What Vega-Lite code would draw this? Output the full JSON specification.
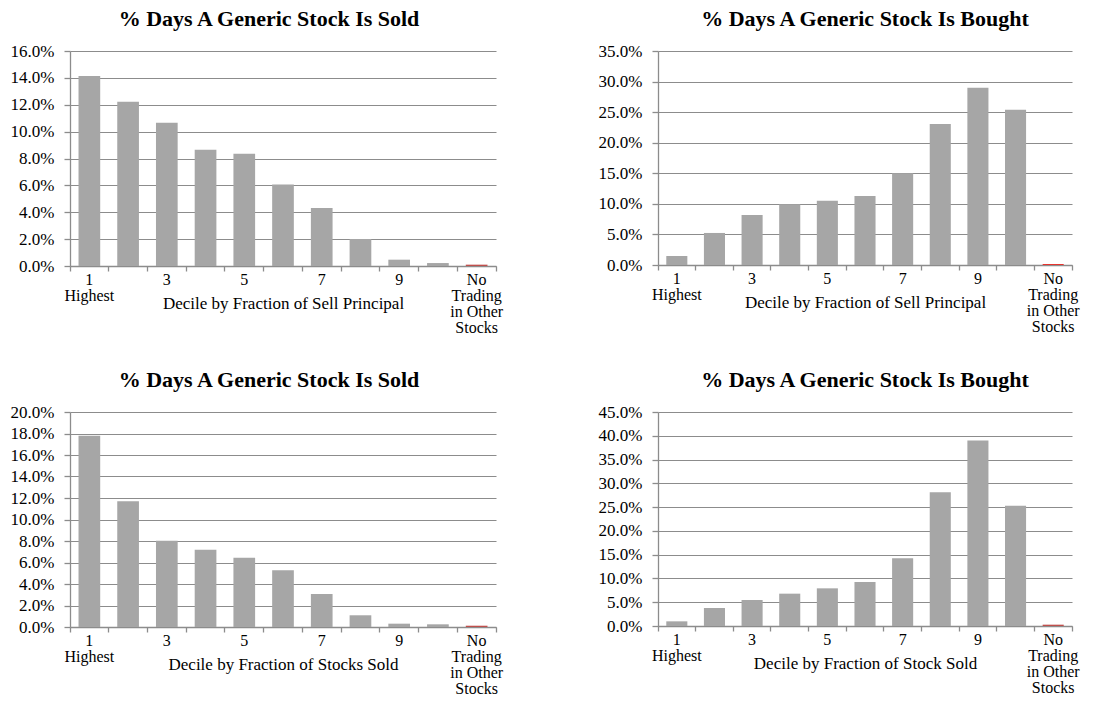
{
  "$schema": "https://vega.github.io/schema/vega-lite/v6.json",
  "padding": {"left": 10, "top": 8, "right": 10, "bottom": 0},
  "background": "white",
  "datasets": {
    "p1": [
      {"decile": "1", "value": 0.1414}, {"decile": "2", "value": 0.1222}, {"decile": "3", "value": 0.1066},
      {"decile": "4", "value": 0.0865}, {"decile": "5", "value": 0.0835}, {"decile": "6", "value": 0.0606},
      {"decile": "7", "value": 0.0432}, {"decile": "8", "value": 0.0201}, {"decile": "9", "value": 0.0047},
      {"decile": "10", "value": 0.0022}, {"decile": "No", "value": 0.0010}
    ],
    "p2": [
      {"decile": "1", "value": 0.0147}, {"decile": "2", "value": 0.0524}, {"decile": "3", "value": 0.0819},
      {"decile": "4", "value": 0.0994}, {"decile": "5", "value": 0.1049}, {"decile": "6", "value": 0.1130},
      {"decile": "7", "value": 0.1502}, {"decile": "8", "value": 0.2305}, {"decile": "9", "value": 0.2900},
      {"decile": "10", "value": 0.2540}, {"decile": "No", "value": 0.0016}
    ],
    "p3": [
      {"decile": "1", "value": 0.1780}, {"decile": "2", "value": 0.1169}, {"decile": "3", "value": 0.0803},
      {"decile": "4", "value": 0.0719}, {"decile": "5", "value": 0.0645}, {"decile": "6", "value": 0.0527},
      {"decile": "7", "value": 0.0307}, {"decile": "8", "value": 0.0109}, {"decile": "9", "value": 0.0031},
      {"decile": "10", "value": 0.0025}, {"decile": "No", "value": 0.0012}
    ],
    "p4": [
      {"decile": "1", "value": 0.0098}, {"decile": "2", "value": 0.0378}, {"decile": "3", "value": 0.0547},
      {"decile": "4", "value": 0.0680}, {"decile": "5", "value": 0.0792}, {"decile": "6", "value": 0.0925},
      {"decile": "7", "value": 0.1423}, {"decile": "8", "value": 0.2810}, {"decile": "9", "value": 0.3903},
      {"decile": "10", "value": 0.2530}, {"decile": "No", "value": 0.0028}
    ]
  },
  "bounds": "flush",
  "columns": 2,
  "spacing": {"row": 146, "column": 162},
  "concat": [
    {
      "width": 426, "height": 215,
      "title": {"text": "% Days A Generic Stock Is Sold", "dx": -14},
      "data": {"name": "p1"},
      "encoding": {
        "y": {"field": "value", "type": "quantitative", "scale": {"domain": [0, 0.16]},
          "axis": {"title": null, "format": ".1%", "values": [0, 0.02, 0.04, 0.06, 0.08, 0.1, 0.12, 0.14, 0.16]}}
      },
      "layer": [
        {
          "mark": {"type": "bar", "width": {"band": 0.56}},
          "encoding": {
            "x": {"field": "decile", "type": "ordinal", "sort": null, "scale": {"paddingInner": 0, "paddingOuter": 0},
              "axis": {"orient": "bottom", "title": "Decile by Fraction of Sell Principal", "ticks": false,
                "labelExpr": "datum.value == '1' ? ['1','Highest'] : datum.value == 'No' ? ['No','Trading','in Other','Stocks'] : (datum.value == '3' || datum.value == '5' || datum.value == '7' || datum.value == '9') ? datum.value : ''"}},
            "color": {"condition": {"test": "datum.decile === 'No'", "value": "#c0504d"}, "value": "#a6a6a6"}
          }
        },
        {
          "mark": {"type": "rule", "opacity": 0},
          "encoding": {
            "x": {"field": "decile", "type": "ordinal", "sort": null,
              "axis": {"orient": "bottom", "bandPosition": 0, "labels": false, "title": null, "domain": false, "grid": false, "ticks": true}}
          }
        },
        {
          "mark": {"type": "rule", "opacity": 0},
          "encoding": {
            "x": {"field": "decile", "type": "ordinal", "sort": null,
              "axis": {"orient": "bottom", "bandPosition": 1, "values": ["No"], "labels": false, "title": null, "domain": false, "grid": false, "ticks": true}}
          }
        }
      ],
      "resolve": {"axis": {"x": "independent"}}
    },
    {
      "width": 414, "height": 214,
      "title": {"text": "% Days A Generic Stock Is Bought"},
      "data": {"name": "p2"},
      "encoding": {
        "y": {"field": "value", "type": "quantitative", "scale": {"domain": [0, 0.35]},
          "axis": {"title": null, "format": ".1%", "values": [0, 0.05, 0.1, 0.15, 0.2, 0.25, 0.3, 0.35]}}
      },
      "layer": [
        {
          "mark": {"type": "bar", "width": {"band": 0.56}},
          "encoding": {
            "x": {"field": "decile", "type": "ordinal", "sort": null, "scale": {"paddingInner": 0, "paddingOuter": 0},
              "axis": {"orient": "bottom", "title": "Decile by Fraction of Sell Principal", "ticks": false,
                "labelExpr": "datum.value == '1' ? ['1','Highest'] : datum.value == 'No' ? ['No','Trading','in Other','Stocks'] : (datum.value == '3' || datum.value == '5' || datum.value == '7' || datum.value == '9') ? datum.value : ''"}},
            "color": {"condition": {"test": "datum.decile === 'No'", "value": "#e8352f"}, "value": "#a6a6a6"}
          }
        },
        {
          "mark": {"type": "rule", "opacity": 0},
          "encoding": {
            "x": {"field": "decile", "type": "ordinal", "sort": null,
              "axis": {"orient": "bottom", "bandPosition": 0, "labels": false, "title": null, "domain": false, "grid": false, "ticks": true}}
          }
        },
        {
          "mark": {"type": "rule", "opacity": 0},
          "encoding": {
            "x": {"field": "decile", "type": "ordinal", "sort": null,
              "axis": {"orient": "bottom", "bandPosition": 1, "values": ["No"], "labels": false, "title": null, "domain": false, "grid": false, "ticks": true}}
          }
        }
      ],
      "resolve": {"axis": {"x": "independent"}}
    },
    {
      "width": 426, "height": 215,
      "title": {"text": "% Days A Generic Stock Is Sold", "dx": -14},
      "data": {"name": "p3"},
      "encoding": {
        "y": {"field": "value", "type": "quantitative", "scale": {"domain": [0, 0.2]},
          "axis": {"title": null, "format": ".1%", "values": [0, 0.02, 0.04, 0.06, 0.08, 0.1, 0.12, 0.14, 0.16, 0.18, 0.2]}}
      },
      "layer": [
        {
          "mark": {"type": "bar", "width": {"band": 0.56}},
          "encoding": {
            "x": {"field": "decile", "type": "ordinal", "sort": null, "scale": {"paddingInner": 0, "paddingOuter": 0},
              "axis": {"orient": "bottom", "title": "Decile by Fraction of Stocks Sold", "ticks": false,
                "labelExpr": "datum.value == '1' ? ['1','Highest'] : datum.value == 'No' ? ['No','Trading','in Other','Stocks'] : (datum.value == '3' || datum.value == '5' || datum.value == '7' || datum.value == '9') ? datum.value : ''"}},
            "color": {"condition": {"test": "datum.decile === 'No'", "value": "#c0504d"}, "value": "#a6a6a6"}
          }
        },
        {
          "mark": {"type": "rule", "opacity": 0},
          "encoding": {
            "x": {"field": "decile", "type": "ordinal", "sort": null,
              "axis": {"orient": "bottom", "bandPosition": 0, "labels": false, "title": null, "domain": false, "grid": false, "ticks": true}}
          }
        },
        {
          "mark": {"type": "rule", "opacity": 0},
          "encoding": {
            "x": {"field": "decile", "type": "ordinal", "sort": null,
              "axis": {"orient": "bottom", "bandPosition": 1, "values": ["No"], "labels": false, "title": null, "domain": false, "grid": false, "ticks": true}}
          }
        }
      ],
      "resolve": {"axis": {"x": "independent"}}
    },
    {
      "width": 414, "height": 214,
      "title": {"text": "% Days A Generic Stock Is Bought"},
      "data": {"name": "p4"},
      "encoding": {
        "y": {"field": "value", "type": "quantitative", "scale": {"domain": [0, 0.45]},
          "axis": {"title": null, "format": ".1%", "values": [0, 0.05, 0.1, 0.15, 0.2, 0.25, 0.3, 0.35, 0.4, 0.45]}}
      },
      "layer": [
        {
          "mark": {"type": "bar", "width": {"band": 0.56}},
          "encoding": {
            "x": {"field": "decile", "type": "ordinal", "sort": null, "scale": {"paddingInner": 0, "paddingOuter": 0},
              "axis": {"orient": "bottom", "title": "Decile by Fraction of Stock Sold", "ticks": false,
                "labelExpr": "datum.value == '1' ? ['1','Highest'] : datum.value == 'No' ? ['No','Trading','in Other','Stocks'] : (datum.value == '3' || datum.value == '5' || datum.value == '7' || datum.value == '9') ? datum.value : ''"}},
            "color": {"condition": {"test": "datum.decile === 'No'", "value": "#c0504d"}, "value": "#a6a6a6"}
          }
        },
        {
          "mark": {"type": "rule", "opacity": 0},
          "encoding": {
            "x": {"field": "decile", "type": "ordinal", "sort": null,
              "axis": {"orient": "bottom", "bandPosition": 0, "labels": false, "title": null, "domain": false, "grid": false, "ticks": true}}
          }
        },
        {
          "mark": {"type": "rule", "opacity": 0},
          "encoding": {
            "x": {"field": "decile", "type": "ordinal", "sort": null,
              "axis": {"orient": "bottom", "bandPosition": 1, "values": ["No"], "labels": false, "title": null, "domain": false, "grid": false, "ticks": true}}
          }
        }
      ],
      "resolve": {"axis": {"x": "independent"}}
    }
  ],
  "config": {
    "font": "Liberation Serif, Times New Roman, DejaVu Serif, serif",
    "view": {"stroke": null},
    "title": {"font": "Liberation Serif, Times New Roman, DejaVu Serif, serif", "fontSize": 22, "fontWeight": "bold", "color": "#000000", "anchor": "middle", "baseline": "alphabetic", "offset": 11},
    "axis": {
      "labelFont": "Liberation Serif, Times New Roman, DejaVu Serif, serif", "labelFontSize": 17, "labelColor": "#000000",
      "titleFont": "Liberation Serif, Times New Roman, DejaVu Serif, serif", "titleFontSize": 17, "titleFontWeight": "normal", "titleColor": "#000000",
      "domainColor": "#8c8c8c", "domainWidth": 1.3, "tickColor": "#8c8c8c", "tickWidth": 1.3,
      "gridColor": "#8c8c8c", "gridWidth": 1.2
    },
    "axisY": {"grid": true, "tickSize": 6, "labelPadding": 10, "domain": true},
    "axisX": {"grid": false, "tickSize": 5, "labelPadding": 5, "labelFontSize": 16, "labelAngle": 0, "labelLineHeight": 16, "labelBaseline": "top",
      "titleY": 42, "titleBaseline": "alphabetic"}
  }
}
